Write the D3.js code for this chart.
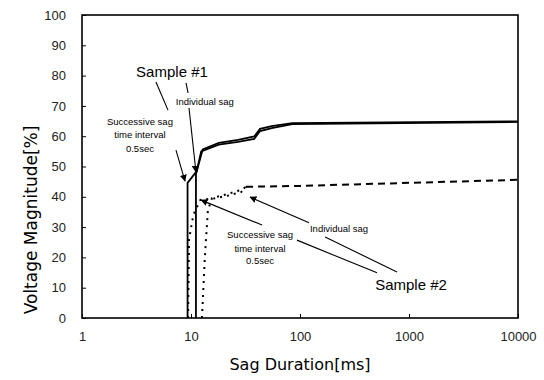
<!DOCTYPE html>
<html>
<head>
<meta charset="utf-8">
<script src="https://cdn.jsdelivr.net/npm/d3@7"></script>
<style>
  body { margin: 0; background: #fff; }
  svg text { font-family: "Liberation Sans", Arial, sans-serif; fill: #000; }
</style>
</head>
<body>
<div id="chart"></div>
<script>
// chart values, [duration ms, magnitude %]
const xTicks = [1, 10, 100, 1000, 10000];
const yTicks = [0, 10, 20, 30, 40, 50, 60, 70, 80, 90, 100];

const s1Successive = [[9.3, 0], [9.3, 44.6], [11.3, 48.5], [12.4, 55], [18, 57.2], [27, 58.1],
    [38, 59.1], [43, 61.7], [55, 62.7], [85, 64], [10000, 64.7]];
const s1Individual = [[11.1, 0], [11.1, 47.5], [12.8, 55.6], [18, 57.8], [27, 58.8], [38, 59.9],
    [43, 62.4], [55, 63.3], [85, 64.3], [10000, 64.9]];

const s2Successive = [[9.4, 0], [9.6, 26], [10.5, 34], [12.2, 39], [16, 39.4], [22, 40.4], [29, 41.6], [32, 43.3]];
const s2Individual = [[12.6, 0], [13.4, 20], [14.3, 35.6], [15.6, 39.6], [22, 41], [29, 42.3], [32, 43.3]];
const s2Tail = [[32, 43.3], [100, 43.6], [1000, 44.6], [10000, 45.6]];

// annotation texts, positioned in data units
const labels = [
    { t: "Sample #1", x: 6.69, y: 81.2, size: 15 },
    { t: "Individual sag", x: 13.4, y: 71.6, size: 9.5 },
    { t: "Successive sag", x: 3.4, y: 64.7, size: 9.5 },
    { t: "time interval", x: 3.4, y: 60.4, size: 9.5 },
    { t: "0.5sec", x: 3.4, y: 56.1, size: 9.5 },
    { t: "Individual sag", x: 228, y: 29.7, size: 9.5 },
    { t: "Successive sag", x: 43, y: 27.4, size: 9.5 },
    { t: "time interval", x: 43, y: 23.1, size: 9.5 },
    { t: "0.5sec", x: 43, y: 19.1, size: 9.5 },
    { t: "Sample #2", x: 1043, y: 11.2, size: 15 }
];
const leaders = [
    { a: [4.77, 77.9], b: [6.15, 68.6], arrow: false },
    { a: [9.0, 77.6], b: [9.4, 74.3], arrow: false },
    { a: [9.59, 69.3], b: [11.1, 48.2], arrow: true },
    { a: [7.28, 55.4], b: [8.81, 45.2], arrow: true },
    { a: [44.8, 30.7], b: [12.4, 38.9], arrow: true },
    { a: [121, 31.4], b: [34.8, 39.9], arrow: true },
    { a: [93.8, 25.7], b: [509, 14.9], arrow: false },
    { a: [170, 26.7], b: [776, 15.2], arrow: false }
];

const width = 544, height = 380;
const margin = { top: 15, right: 26, bottom: 62, left: 82 };

const svg = d3.select("#chart").append("svg")
    .attr("width", width)
    .attr("height", height);

svg.append("defs").append("marker")
    .attr("id", "arrow")
    .attr("viewBox", "0 0 10 10")
    .attr("refX", 9).attr("refY", 5)
    .attr("markerWidth", 7).attr("markerHeight", 7)
    .attr("markerUnits", "userSpaceOnUse")
    .attr("orient", "auto")
    .append("path")
    .attr("d", "M0,0 L10,5 L0,10 Z")
    .attr("fill", "#000");

const x = d3.scaleLog()
    .domain([1, 10000])
    .range([margin.left, width - margin.right]);
const y = d3.scaleLinear()
    .domain([0, 100])
    .range([height - margin.bottom, margin.top]);

// axes with small inward ticks
svg.append("g")
    .attr("transform", "translate(" + margin.left + ",0)")
    .call(d3.axisLeft(y).tickValues(yTicks).tickSizeInner(-4).tickSizeOuter(0).tickPadding(16))
    .call(g => g.select(".domain").remove())
    .selectAll("text").style("font-size", "13px").style("fill", "#222");

svg.append("g")
    .attr("transform", "translate(0," + (height - margin.bottom) + ")")
    .call(d3.axisBottom(x).tickValues(xTicks).tickFormat(d3.format("d")).tickSizeInner(-4).tickSizeOuter(0).tickPadding(14))
    .call(g => g.select(".domain").remove())
    .selectAll("text").style("font-size", "13px").style("fill", "#222");

// frame
svg.append("rect")
    .attr("x", margin.left)
    .attr("y", margin.top)
    .attr("width", width - margin.left - margin.right)
    .attr("height", height - margin.top - margin.bottom)
    .attr("fill", "none")
    .attr("stroke", "#000")
    .attr("stroke-width", 1.6);

const line = d3.line().x(d => x(d[0])).y(d => y(d[1]));

svg.selectAll(".s1")
    .data([s1Successive, s1Individual])
    .join("path")
    .attr("class", "s1")
    .attr("d", line)
    .attr("fill", "none")
    .attr("stroke", "#000")
    .attr("stroke-width", 1.8);

svg.selectAll(".s2")
    .data([s2Successive, s2Individual])
    .join("path")
    .attr("class", "s2")
    .attr("d", line)
    .attr("fill", "none")
    .attr("stroke", "#000")
    .attr("stroke-width", 2)
    .attr("stroke-dasharray", "2,5");

svg.append("path")
    .attr("d", line(s2Tail))
    .attr("fill", "none")
    .attr("stroke", "#000")
    .attr("stroke-width", 2)
    .attr("stroke-dasharray", "7,5");

// leader lines and arrows
svg.selectAll(".leader")
    .data(leaders)
    .join("line")
    .attr("class", "leader")
    .attr("x1", d => x(d.a[0])).attr("y1", d => y(d.a[1]))
    .attr("x2", d => x(d.b[0])).attr("y2", d => y(d.b[1]))
    .attr("stroke", "#000")
    .attr("stroke-width", 1.1)
    .attr("marker-end", d => d.arrow ? "url(#arrow)" : null);

svg.selectAll(".note")
    .data(labels)
    .join("text")
    .attr("class", "note")
    .attr("x", d => x(d.x))
    .attr("y", d => y(d.y))
    .attr("text-anchor", "middle")
    .attr("dominant-baseline", "central")
    .style("font-size", d => d.size + "px")
    .text(d => d.t);

// axis titles
svg.append("text")
    .attr("x", (margin.left + width - margin.right) / 2)
    .attr("y", 364)
    .attr("text-anchor", "middle")
    .attr("dominant-baseline", "central")
    .style("font-family", "'DejaVu Sans', Verdana, sans-serif")
    .style("font-size", "16px")
    .text("Sag Duration[ms]");

svg.append("text")
    .attr("transform", "translate(31,220) rotate(-90)")
    .attr("text-anchor", "middle")
    .attr("dominant-baseline", "central")
    .style("font-family", "'DejaVu Sans', Verdana, sans-serif")
    .style("font-size", "17px")
    .text("Voltage Magnitude[%]");
</script>
</body>
</html>
